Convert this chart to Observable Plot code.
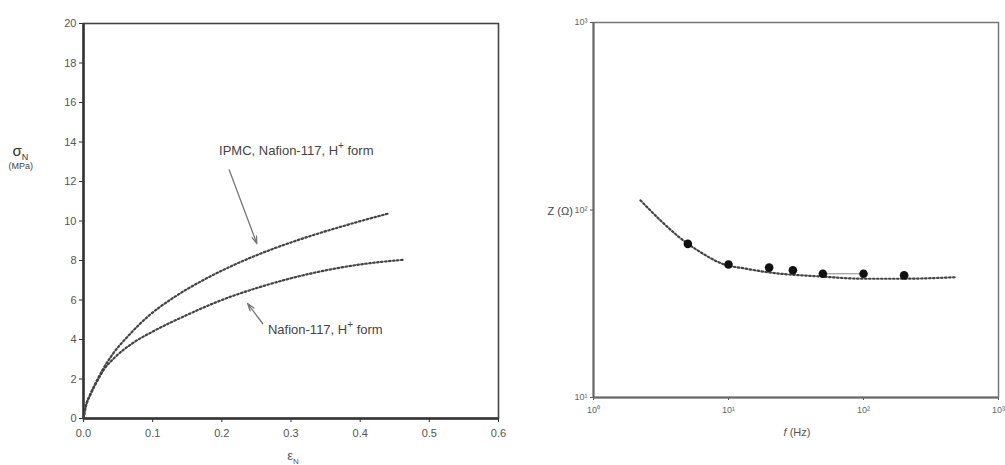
<!DOCTYPE html>
<html>
<head>
<meta charset="utf-8">
<script src="https://cdn.jsdelivr.net/npm/d3@7"></script>
<script src="https://cdn.jsdelivr.net/npm/@observablehq/plot@0.6"></script>
<style>
  html, body { margin: 0; padding: 0; background: #fff; }
  #wrap { position: relative; width: 1005px; height: 465px; overflow: hidden; font-family: "Liberation Sans", Arial, sans-serif; }
  #left { position: absolute; left: 0; top: 0; }
  #right { position: absolute; left: 540px; top: 0; }
</style>
</head>
<body>
<div id="wrap"><div id="left"></div><div id="right"></div></div>
<script>
// ---------- Left panel data: stress-strain ----------
const strainIPMC  = [0, 0.003, 0.010, 0.017, 0.027, 0.042, 0.063, 0.095, 0.131, 0.170, 0.208, 0.240, 0.271, 0.329, 0.387, 0.442];
const stressIPMC  = [0, 0.57, 1.25, 1.76, 2.43, 3.25, 4.12, 5.22, 6.14, 6.95, 7.62, 8.12, 8.55, 9.25, 9.86, 10.39];
const strainNafion = [0, 0.003, 0.010, 0.020, 0.030, 0.044, 0.073, 0.100, 0.150, 0.200, 0.250, 0.300, 0.350, 0.400, 0.464];
const stressNafion = [0, 0.55, 1.20, 1.90, 2.50, 3.05, 3.86, 4.40, 5.25, 6.00, 6.60, 7.10, 7.50, 7.80, 8.04];
const strainTicks = [0, 0.1, 0.2, 0.3, 0.4, 0.5, 0.6];
const stressTicks = [0, 2, 4, 6, 8, 10, 12, 14, 16, 18, 20];
// annotations (data coordinates)
const labelIPMC = ["IPMC, Nafion-117, H", "+", " form"];
const labelNafion = ["Nafion-117, H", "+", " form"];
const labelIPMCAt = [0.196, 13.57];
const labelNafionAt = [0.2667, 4.5];
const arrowIPMC = [0.2106, 12.59, 0.2507, 8.85];
const arrowNafion = [0.259, 4.81, 0.2372, 5.82];

// ---------- Right panel data: impedance ----------
const fitFreq = [2.23, 3.14, 4.17, 6.2, 9.8, 12.3, 19.3, 48, 100, 198, 479];
const fitZ    = [112.5, 87.9, 73.1, 59.6, 50.6, 49.2, 46.6, 44.2, 43.0, 43.0, 43.8];
const measFreq = [5, 10, 20, 30, 50, 100, 200];
const measZ    = [66, 51.2, 49.3, 47.7, 45.7, 45.7, 44.8];
const freqTicks = [1, 10, 100, 1000];
const zTicks = [10, 100, 1000];
const supDigits = ["⁰","¹","²","³"];

const zip = (xs, ys) => xs.map((x, i) => ({x, y: ys[i]}));
const dotted = {stroke: "#444", strokeWidth: 2.2, strokeDasharray: "1.6,2.4"};

// ---------- Left chart ----------
const left = Plot.plot({
  width: 540, height: 465,
  marginLeft: 83, marginRight: 42, marginTop: 23, marginBottom: 47,
  style: {fontFamily: "Liberation Sans, Arial, sans-serif", fontSize: "11px", color: "#555", background: "transparent", overflow: "visible"},
  x: {domain: [0, 0.6]},
  y: {domain: [0, 20]},
  marks: [
    Plot.axisX({ticks: strainTicks, tickFormat: d3.format(".1f"), tickSize: 4, tickPadding: 7, label: null, stroke: "#333"}),
    Plot.axisY({ticks: stressTicks, tickSize: 4, tickPadding: 3, label: null, stroke: "#333"}),
    Plot.frame({stroke: "#444", strokeWidth: 1.6}),
    Plot.ruleX([0], {stroke: "#333", strokeWidth: 2.5}),
    Plot.ruleY([0], {stroke: "#333", strokeWidth: 2.5}),
    Plot.line(zip(strainIPMC, stressIPMC), {x: "x", y: "y", curve: "monotone-x", ...dotted}),
    Plot.line(zip(strainNafion, stressNafion), {x: "x", y: "y", curve: "monotone-x", ...dotted}),
    Plot.arrow([arrowIPMC, arrowNafion], {x1: d => d[0], y1: d => d[1], x2: d => d[2], y2: d => d[3], stroke: "#777", strokeWidth: 1.3, headLength: 9, headAngle: 35}),
    Plot.text([labelIPMC.join("")], {x: () => labelIPMCAt[0], y: () => labelIPMCAt[1], text: d => d, textAnchor: "start", fontSize: 13, fill: "#444"}),
    Plot.text([labelNafion.join("")], {x: () => labelNafionAt[0], y: () => labelNafionAt[1], text: d => d, textAnchor: "start", fontSize: 13, fill: "#444"}),
    Plot.text(["σN"], {frameAnchor: "top-left", dx: -71, dy: 128, textAnchor: "start", lineAnchor: "middle", fontSize: 15, fill: "#333"}),
    Plot.text(["(MPa)"], {frameAnchor: "top-left", dx: -75, dy: 143, textAnchor: "start", lineAnchor: "middle", fontSize: 9, fill: "#444"}),
    Plot.text(["εN"], {frameAnchor: "bottom", dx: 2, dy: 37, textAnchor: "middle", lineAnchor: "middle", fontSize: 13, fill: "#555"})
  ]
});

// ---------- Right chart ----------
const right = Plot.plot({
  width: 465, height: 465,
  marginLeft: 53, marginRight: 7, marginTop: 22, marginBottom: 68,
  style: {fontFamily: "Liberation Sans, Arial, sans-serif", fontSize: "9px", color: "#666", background: "transparent", overflow: "visible"},
  x: {type: "log", domain: [1, 1000]},
  y: {type: "log", domain: [10, 1000]},
  marks: [
    Plot.axisX({ticks: freqTicks, tickFormat: d => "10" + supDigits[Math.round(Math.log10(d))], tickSize: 3, tickPadding: 6, label: null, stroke: "#555"}),
    Plot.axisY({ticks: zTicks, tickFormat: d => "10" + supDigits[Math.round(Math.log10(d))], tickSize: 3, tickPadding: 3, label: null, stroke: "#555"}),
    Plot.frame({stroke: "#777", strokeWidth: 1.5}),
    Plot.ruleX([1], {stroke: "#666", strokeWidth: 2}),
    Plot.ruleY([10], {stroke: "#666", strokeWidth: 2}),
    Plot.line(zip(fitFreq, fitZ), {x: "x", y: "y", curve: "monotone-x", ...dotted}),
    Plot.line(zip(measFreq.slice(4, 6), measZ.slice(4, 6)), {x: "x", y: "y", stroke: "#888", strokeWidth: 1}),
    Plot.dot(zip(measFreq, measZ), {x: "x", y: "y", r: 4.3, fill: "#111", stroke: "none"}),
    Plot.text(["Z (Ω)"], {frameAnchor: "left", dx: -46, dy: 1, textAnchor: "start", lineAnchor: "middle", fontSize: 11, fill: "#444"}),
    Plot.text(["f (Hz)"], {frameAnchor: "bottom", dx: 1, dy: 35, textAnchor: "middle", lineAnchor: "middle", fontSize: 11, fill: "#555"})
  ]
});

// rich text (sub/superscripts, italics)
const NS = "http://www.w3.org/2000/svg";
function rich(svg, full, parts) {
  d3.select(svg).selectAll("text").each(function() {
    if (this.textContent !== full) return;
    this.textContent = "";
    let cur = 0;
    for (const p of parts) {
      const ts = document.createElementNS(NS, "tspan");
      ts.textContent = p.t;
      const shift = p.shift || 0;
      if (shift !== cur) ts.setAttribute("dy", (shift - cur) + "px");
      cur = shift;
      if (p.size) ts.setAttribute("font-size", p.size);
      if (p.italic) ts.setAttribute("font-style", "italic");
      this.appendChild(ts);
    }
  });
}
rich(left, labelIPMC.join(""), [{t: labelIPMC[0]}, {t: labelIPMC[1], shift: -6, size: 10}, {t: labelIPMC[2], shift: 0}]);
rich(left, labelNafion.join(""), [{t: labelNafion[0]}, {t: labelNafion[1], shift: -6, size: 10}, {t: labelNafion[2], shift: 0}]);
rich(left, "σN", [{t: "σ"}, {t: "N", shift: 4, size: 9}]);
rich(left, "εN", [{t: "ε"}, {t: "N", shift: 4, size: 8}]);
rich(right, "f (Hz)", [{t: "f", italic: true}, {t: " (Hz)"}]);

document.getElementById("left").appendChild(left);
document.getElementById("right").appendChild(right);
</script>
</body>
</html>
